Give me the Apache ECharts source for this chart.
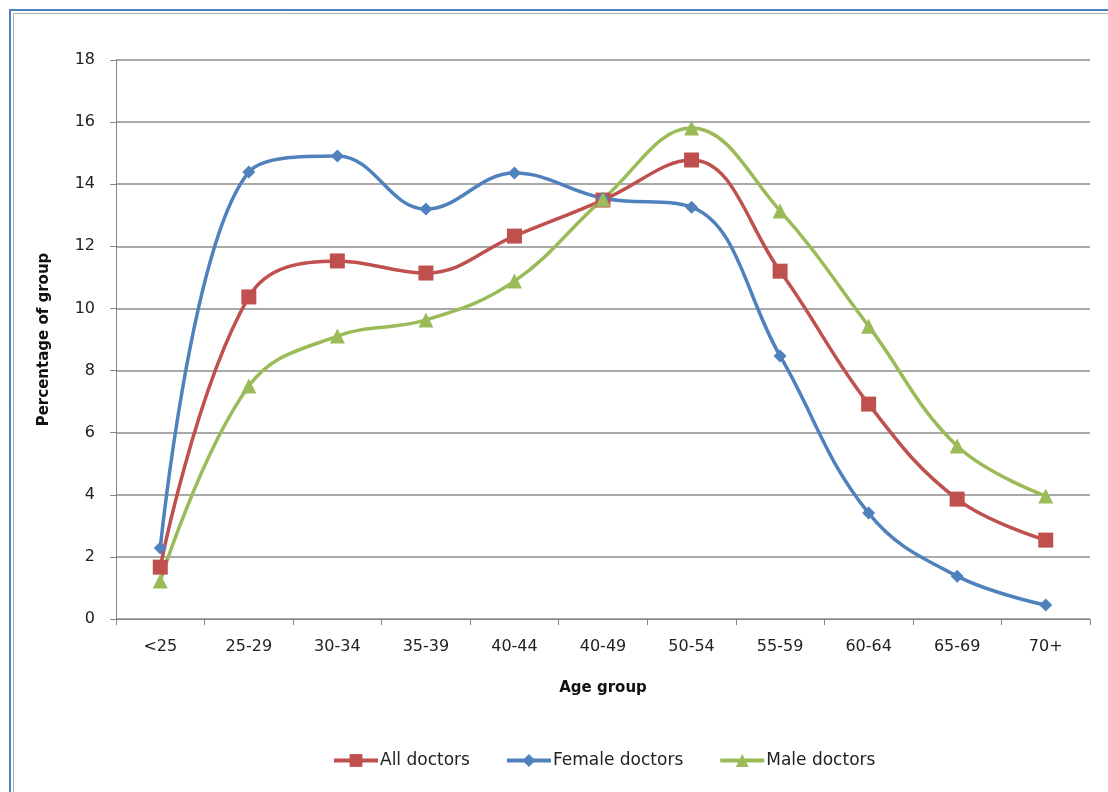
<!DOCTYPE html>
<html>
<head>
<meta charset="utf-8">
<script src="https://cdn.jsdelivr.net/npm/echarts@6/dist/echarts.min.js"></script>
<style>
  html, body { margin: 0; padding: 0; background: #fff; }
  #chart { width: 1108px; height: 792px; }
</style>
</head>
<body>
<div id="chart"></div>
<script>
// Age bands on the horizontal axis
const ageGroups = ['<25', '25-29', '30-34', '35-39', '40-44', '40-49', '50-54', '55-59', '60-64', '65-69', '70+'];

// Share of each group (%) falling into each age band
const allDoctors    = [1.67, 10.37, 11.53, 11.14, 12.33, 13.49, 14.78, 11.20, 6.92, 3.86, 2.54];
const femaleDoctors = [2.29, 14.39, 14.91, 13.20, 14.36, 13.55, 13.26, 8.47, 3.41, 1.38, 0.45];
const maleDoctors   = [1.22, 7.50, 9.11, 9.63, 10.88, 13.52, 15.81, 13.14, 9.43, 5.57, 3.96];

const yTicks = { min: 0, max: 18, interval: 2 };

const FONT = '"DejaVu Sans", Verdana, sans-serif';
const chart = echarts.init(document.getElementById('chart'));

function line(name, data, color, symbol, size) {
  return {
    name, type: 'line', data,
    smooth: 0.4,
    symbol, symbolSize: size,
    showSymbol: true,
    lineStyle: { color, width: 3.5 },
    itemStyle: { color },
    z: 3
  };
}

chart.setOption({
  animation: false,
  textStyle: { fontFamily: FONT },
  graphic: [
    { type: 'rect', shape: { x: 10, y: 10, width: 1200, height: 900 },
      style: { fill: 'none', stroke: '#4f81bd', lineWidth: 2 }, silent: true },
    { type: 'rect', shape: { x: 13.5, y: 13.5, width: 1200, height: 900 },
      style: { fill: 'none', stroke: '#b0b0b0', lineWidth: 1 }, silent: true }
  ],
  grid: { left: 116, right: 18, top: 60, bottom: 173, containLabel: false },
  legend: {
    top: 747, left: 327,
    itemWidth: 44, itemHeight: 16, itemGap: 35,
    lineStyle: { width: 4 },
    textStyle: { fontSize: 17, color: '#222', fontFamily: FONT, padding: [0, 0, 0, -3] },
    data: [
      { name: 'All doctors' },
      { name: 'Female doctors' },
      { name: 'Male doctors' }
    ]
  },
  xAxis: {
    type: 'category',
    data: ageGroups,
    boundaryGap: true,
    name: 'Age group',
    nameLocation: 'middle',
    nameGap: 62,
    nameTextStyle: { fontSize: 15, fontWeight: 'bold', color: '#111', fontFamily: FONT },
    axisLine: { lineStyle: { color: '#868686', width: 1 } },
    axisTick: { show: true, length: 6, lineStyle: { color: '#868686' }, alignWithLabel: false },
    axisLabel: { fontSize: 16, color: '#222', margin: 20, fontFamily: FONT }
  },
  yAxis: {
    type: 'value',
    min: yTicks.min, max: yTicks.max, interval: yTicks.interval,
    name: 'Percentage of group',
    nameLocation: 'middle',
    nameGap: 64,
    nameRotate: 90,
    nameTextStyle: { fontSize: 15, fontWeight: 'bold', color: '#111', fontFamily: FONT },
    axisLine: { show: true, lineStyle: { color: '#868686', width: 1 } },
    axisTick: { show: true, length: 6, inside: false, lineStyle: { color: '#868686' } },
    axisLabel: { fontSize: 16, color: '#222', margin: 21, fontFamily: FONT },
    splitLine: { show: true, lineStyle: { color: '#8c8c8c', width: 1.5 } }
  },
  series: [
    line('All doctors', allDoctors, '#c0504d', 'rect', 15),
    line('Female doctors', femaleDoctors, '#4f81bd', 'diamond', 13),
    line('Male doctors', maleDoctors, '#9bbb59', 'triangle', 15)
  ]
});
</script>
</body>
</html>
